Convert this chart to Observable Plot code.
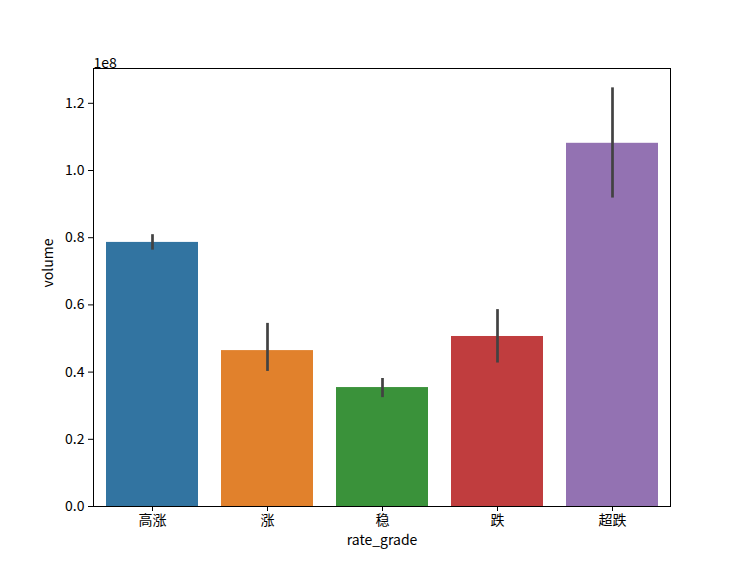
<!DOCTYPE html>
<html>
<head>
<meta charset="utf-8">
<script src="https://cdn.jsdelivr.net/npm/d3@7"></script>
<script src="https://cdn.jsdelivr.net/npm/@observablehq/plot@0.6"></script>
<style>
  html, body { margin: 0; padding: 0; background: #fff; }
  svg { font-family: "Noto Sans CJK SC", "DejaVu Sans", sans-serif; }
</style>
</head>
<body>
<div id="chart"></div>
<script>
const grades = ["高涨", "涨", "稳", "跌", "超跌"];
const volumes = [78.6e6, 46.4e6, 35.4e6, 50.6e6, 108.1e6];
const ciLow = [76.3e6, 40.2e6, 32.4e6, 42.7e6, 91.8e6];
const ciHigh = [80.9e6, 54.5e6, 38.1e6, 58.6e6, 124.6e6];
const colors = ["#3274a1", "#e1812c", "#3a923a", "#c03d3e", "#9372b2"];
const yTicks = [0, 0.2e8, 0.4e8, 0.6e8, 0.8e8, 1.0e8, 1.2e8];

const data = grades.map((g, i) => ({grade: g, volume: volumes[i], lo: ciLow[i], hi: ciHigh[i]}));

const chart = Plot.plot({
  width: 745,
  height: 568,
  marginLeft: 93,
  marginRight: 75,
  marginTop: 68,
  marginBottom: 62,
  style: {fontSize: "14px", fontFamily: "'Noto Sans CJK SC', sans-serif", color: "#000", background: "#fff"},
  x: {domain: grades, type: "band", paddingInner: 0.2, paddingOuter: 0.1},
  y: {domain: [0, 1.3036e8]},
  color: {domain: grades, range: colors},
  marks: [
    Plot.barY(data, {x: "grade", y: "volume", fill: "grade"}),
    Plot.ruleX(data, {x: "grade", y1: "lo", y2: "hi", stroke: "#424242", strokeWidth: 2.7}),
    Plot.frame({stroke: "#000", strokeWidth: 1}),
    Plot.axisY({ticks: yTicks, tickFormat: d => (d / 1e8).toFixed(1), tickSize: 5, tickPadding: 4, label: null, fontSize: 14}),
    Plot.axisX({tickSize: 5, tickPadding: 4, label: null, fontSize: 14}),
    Plot.text(["1e8"], {frameAnchor: "top-left", text: d => d, dy: -10, textAnchor: "start", fontSize: 14}),
    Plot.text(["volume"], {frameAnchor: "left", text: d => d, dx: -45, rotate: -90, fontSize: 14}),
    Plot.text(["rate_grade"], {frameAnchor: "bottom", text: d => d, dy: 38, fontSize: 14})
  ]
});
document.getElementById("chart").appendChild(chart);
</script>
</body>
</html>
